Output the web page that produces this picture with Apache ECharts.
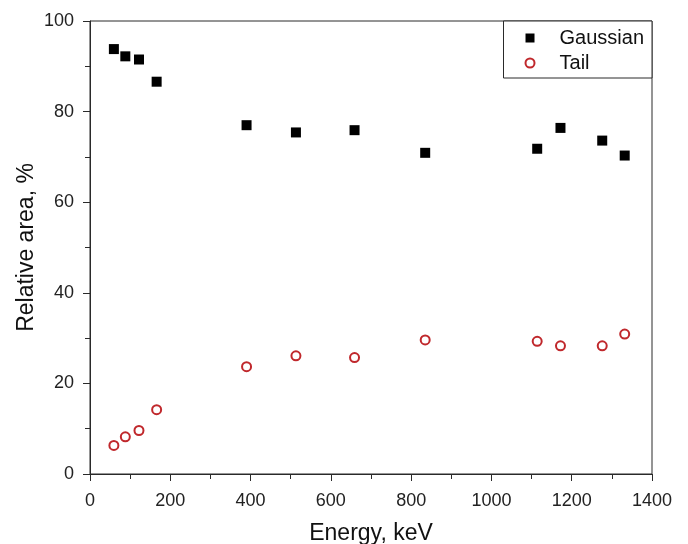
<!DOCTYPE html>
<html>
<head>
<meta charset="utf-8">
<script src="https://cdn.jsdelivr.net/npm/echarts@6/dist/echarts.min.js"></script>
<style>
html,body{margin:0;padding:0;background:#fff;}
#chart{width:688px;height:544px;}
</style>
</head>
<body>
<div id="chart"></div>
<script>
// Energies (keV)
var energies = [59.5, 88, 122, 166, 390, 513, 659, 835, 1114, 1172, 1276, 1332];
// Gaussian relative area, %
var gaussian = [93.8, 92.2, 91.5, 86.6, 77.0, 75.4, 75.9, 70.9, 71.8, 76.4, 73.6, 70.3];
// Tail relative area, %
var tail = [6.3, 8.2, 9.6, 14.2, 23.7, 26.1, 25.7, 29.6, 29.3, 28.3, 28.3, 30.9];

var xTicks = {min: 0, max: 1400, interval: 200};
var yTicks = {min: 0, max: 100, interval: 20};

function pairs(xs, ys) {
  return xs.map(function (x, i) { return [x, ys[i]]; });
}

var FONT = '"Liberation Sans", Arial, sans-serif';
var AXIS_COLOR = '#2a2a2a';
var RED = '#c0282c';

var chart = echarts.init(document.getElementById('chart'), null, {renderer: 'canvas'});
chart.setOption({
  backgroundColor: '#ffffff',
  animation: false,
  grid: {
    left: 90, right: 36, top: 21, bottom: 70,
    outerBoundsMode: 'none',
    containLabel: false,
    show: true, borderColor: AXIS_COLOR, borderWidth: 1, backgroundColor: 'transparent'
  },
  legend: {
    orient: 'vertical',
    right: 36, top: 21,
    padding: [7, 8, 5, 21],
    itemGap: 5,
    itemWidth: 9,
    itemHeight: 9,
    borderColor: AXIS_COLOR,
    borderWidth: 1,
    backgroundColor: '#fff',
    textStyle: {fontFamily: FONT, fontSize: 20, color: '#111', padding: [0, 0, 0, 20]},
    data: [
      {name: 'Gaussian', icon: 'rect'},
      {name: 'Tail', icon: 'circle'}
    ]
  },
  xAxis: {
    type: 'value',
    min: xTicks.min, max: xTicks.max, interval: xTicks.interval,
    name: 'Energy, keV',
    nameLocation: 'middle',
    nameGap: 48,
    nameMoveOverlap: false,
    nameTextStyle: {fontFamily: FONT, fontSize: 23, color: '#111'},
    axisLine: {show: true, lineStyle: {color: AXIS_COLOR, width: 1}},
    axisTick: {show: true, length: 7, lineStyle: {color: AXIS_COLOR}},
    minorTick: {show: true, splitNumber: 2, length: 5, lineStyle: {color: AXIS_COLOR}},
    axisLabel: {fontFamily: FONT, fontSize: 18, color: '#222', margin: 18,
      formatter: function (v) { return String(v); }},
    splitLine: {show: false}
  },
  yAxis: {
    type: 'value',
    min: yTicks.min, max: yTicks.max, interval: yTicks.interval,
    name: 'Relative area, %',
    nameLocation: 'middle',
    nameGap: 52,
    nameMoveOverlap: false,
    nameTextStyle: {fontFamily: FONT, fontSize: 23, color: '#111'},
    axisLine: {show: true, lineStyle: {color: AXIS_COLOR, width: 1}},
    axisTick: {show: true, length: 7, lineStyle: {color: AXIS_COLOR}},
    minorTick: {show: true, splitNumber: 2, length: 5, lineStyle: {color: AXIS_COLOR}},
    axisLabel: {fontFamily: FONT, fontSize: 18, color: '#222', margin: 16,
      formatter: function (v) { return String(v); }},
    splitLine: {show: false}
  },
  series: [
    {
      name: 'Gaussian',
      type: 'scatter',
      symbol: 'rect',
      symbolSize: 10,
      itemStyle: {color: '#000', opacity: 1},
      data: pairs(energies, gaussian)
    },
    {
      name: 'Tail',
      type: 'scatter',
      symbol: 'circle',
      symbolSize: 9,
      itemStyle: {color: '#fff', borderColor: RED, borderWidth: 2, opacity: 1},
      data: pairs(energies, tail)
    }
  ]
});
</script>
</body>
</html>
